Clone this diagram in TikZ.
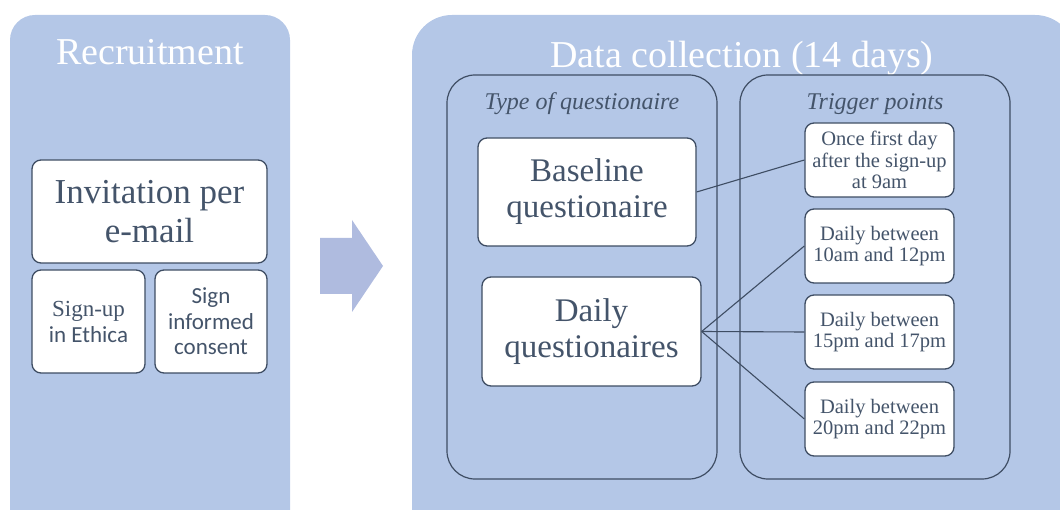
\documentclass[tikz,border=0pt]{standalone}
\usepackage{fontspec}
\setmainfont{Liberation Serif}
\newfontfamily\calibri{Carlito}
\definecolor{panel}{HTML}{B4C7E7}
\definecolor{arrowc}{HTML}{AFBBDF}
\definecolor{txt}{HTML}{44546A}
\definecolor{bord}{HTML}{3E4D63}
\tikzset{
  panelbox/.style={fill=panel, draw=none},
  innerbox/.style={draw=bord, line width=1.2pt, rounded corners=28pt},
  whitebox/.style={draw=bord, line width=1.3pt, fill=white, rounded corners=9pt, align=center, text=txt, inner sep=0pt},
  conn/.style={draw=bord, line width=1.1pt},
  title/.style={text=white, font=\fontsize{38}{40}\selectfont, anchor=base, inner sep=0pt},
  subtitle/.style={text=txt, font=\fontsize{24}{26}\selectfont\itshape, anchor=base, inner sep=0pt},
}
\begin{document}
\begin{tikzpicture}[x=1pt,y=-1pt]
\useasboundingbox (0,0) rectangle (1060,510);
\clip (0,0) rectangle (1060,510);
% panels
\fill[panelbox, rounded corners=25pt] (10,15) rectangle (290,560);
\fill[panelbox, rounded corners=40pt] (412,15) rectangle (1075,560);
% big arrow
\fill[arrowc] (320,238) -- (352,238) -- (352,220) -- (383,266) -- (352,312) -- (352,294) -- (320,294) -- cycle;
% titles
\node[title] (rtitle) at (150,65) {Recruitment};
\node[title] (dtitle) at (742,68) {Data collection (14 days)};
% inner boxes
\draw[innerbox] (447,75) rectangle (717,479);
\draw[innerbox] (740,75) rectangle (1010,479);
\node[subtitle] (ttitle) at (582,110) {Type of questionaire};
\node[subtitle] (gtitle) at (875,110) {Trigger points};
% recruitment boxes
\node[whitebox, minimum width=235pt, minimum height=103pt, font=\fontsize{35}{39}\selectfont] (inv) at (149.5,211.5) {Invitation per\\e-mail};
\node[whitebox, minimum width=113pt, minimum height=103pt, font=\fontsize{23}{26}\selectfont] (signup) at (88.5,321.5) {Sign-up\\{\calibri in Ethica}};
\node[whitebox, minimum width=112pt, minimum height=103pt, font=\fontsize{23}{25.5}\selectfont\calibri] (consent) at (211,321.5) {Sign\\informed\\consent};
% questionnaire boxes
\node[whitebox, minimum width=218pt, minimum height=108pt, font=\fontsize{33}{36}\selectfont] (base) at (587,192) {Baseline\\questionaire};
\node[whitebox, minimum width=219pt, minimum height=109pt, font=\fontsize{33}{36}\selectfont] (daily) at (591.5,331.5) {Daily\\questionaires};
% trigger boxes
\tikzset{trig/.style={whitebox, minimum width=149pt, minimum height=74pt, font=\fontsize{20.5}{21.5}\selectfont}}
\node[trig] (t1) at (879.5,160) {Once first day\\after the sign-up\\at 9am};
\node[trig] (t2) at (879.5,246) {Daily between\\10am and 12pm};
\node[trig] (t3) at (879.5,332) {Daily between\\15pm and 17pm};
\node[trig] (t4) at (879.5,419) {Daily between\\20pm and 22pm};
% connectors
\draw[conn] (base.east) -- (t1.west);
\draw[conn] (daily.east) -- (t2.west);
\draw[conn] (daily.east) -- (t3.west);
\draw[conn] (daily.east) -- (t4.west);
\end{tikzpicture}
\end{document}
